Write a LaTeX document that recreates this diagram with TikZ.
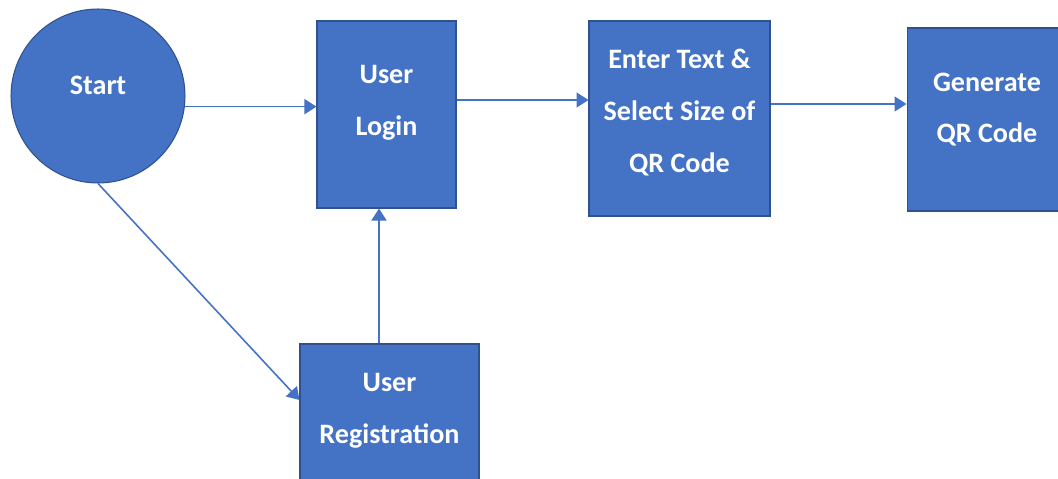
\documentclass[tikz,border=0pt]{standalone}
\usepackage{fontspec}
\setmainfont{Carlito}
\usetikzlibrary{arrows.meta}
\definecolor{boxblue}{HTML}{4472C4}
\definecolor{edgeblue}{HTML}{2F528F}

\begin{document}
\begin{tikzpicture}[x=0.02cm,y=-0.02cm,>={Triangle[length=0.24cm,width=0.3cm]}]
  \tikzset{
    box/.style={draw=edgeblue,fill=boxblue,line width=0.6pt,inner sep=0pt},
    txt/.style={text=white,align=center,font=\fontsize{16}{29.5}\selectfont\bfseries},
    flow/.style={->,draw=boxblue,line width=0.9pt}
  }
  \useasboundingbox (0,0) rectangle (1058,479);

  % Steps
  \node[box,circle,minimum size=3.48cm,
        label={[txt,yshift=0.22cm]center:Start}] (start) at (98,96) {};
  \node[box,minimum width=2.78cm,minimum height=3.74cm,
        label={[txt,yshift=0.23cm]center:User\\Login}] (login) at (386.5,114.5) {};
  \node[box,minimum width=3.62cm,minimum height=3.9cm,
        label={[txt,yshift=0.12cm]center:Enter Text \&\\Select Size of\\QR Code}] (enter) at (679.5,118.5) {};
  \node[box,minimum width=3.2cm,minimum height=3.66cm,
        label={[txt,yshift=0.2cm]center:Generate\\QR Code}] (gen) at (987,119.5) {};
  \node[box,minimum width=3.58cm,minimum height=3cm,
        label={[txt,yshift=0.17cm]center:User\\Registration}] (reg) at (389.5,419) {};

  % Flow
  \draw[flow] (start.-7) -- (start.-7 -| login.west);
  \draw[flow] ([yshift=0.29cm]login.east) -- ([yshift=0.29cm]login.east -| enter.west);
  \draw[flow] ([yshift=0.29cm]enter.east) -- ([yshift=0.29cm]enter.east -| gen.west);
  \draw[flow] (start.south) -- ([yshift=0.38cm]reg.west);
  \draw[flow] ([xshift=-0.21cm]reg.north) -- ([xshift=-0.21cm]reg.north |- login.south);
\end{tikzpicture}
\end{document}
